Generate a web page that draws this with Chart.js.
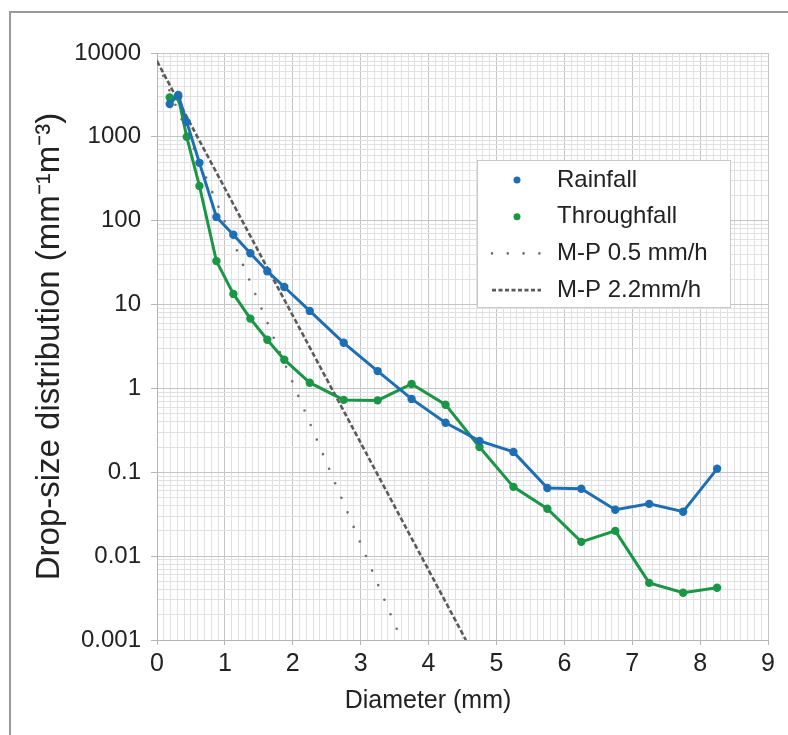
<!DOCTYPE html>
<html><head><meta charset="utf-8">
<script src="https://cdn.jsdelivr.net/npm/chart.js@4/dist/chart.umd.min.js"></script>
<style>
html,body{margin:0;padding:0;background:#fff;}
#wrap{position:relative;width:788px;height:735px;overflow:hidden;background:#fff;}
#frame{position:absolute;left:9px;top:11px;width:800px;height:800px;border-left:2px solid #9a9a9a;border-top:2px solid #9a9a9a;pointer-events:none;}
canvas{position:absolute;left:0;top:0;}
</style></head><body>
<div id="wrap"><div id="frame"></div><canvas id="c" width="788" height="735"></canvas></div>
<script>
// ---- data ----
const diameters = [0.1875, 0.3125, 0.4375, 0.625, 0.875, 1.125, 1.375, 1.625, 1.875, 2.25, 2.75, 3.25, 3.75, 4.25, 4.75, 5.25, 5.75, 6.25, 6.75, 7.25, 7.75, 8.25];
const rainfall    = [2470, 3160, 1510, 490, 111, 68, 41, 25, 16.2, 8.4, 3.5, 1.61, 0.75, 0.39, 0.237, 0.175, 0.065, 0.0635, 0.0357, 0.042, 0.0339, 0.110];
const throughfall = [2950, 3000, 1000, 260, 33, 13.4, 6.8, 3.8, 2.2, 1.17, 0.73, 0.72, 1.13, 0.64, 0.20, 0.067, 0.0367, 0.0148, 0.020, 0.0048, 0.00366, 0.0042];
const mpDiam05 = [0, 3.6];
const mpValues05 = [8000, 0.001];
const mpDiam22 = [0, 4.55];
const mpValues22 = [8000, 0.001];
const seriesLabels = ['Rainfall', 'Throughfall', 'M-P 0.5 mm/h', 'M-P 2.2mm/h'];
const xTickLabels = ['0', '1', '2', '3', '4', '5', '6', '7', '8', '9'];
const yDecades = [0.001, 0.01, 0.1, 1, 10, 100, 1000, 10000];
const yTickLabels = ['0.001', '0.01', '0.1', '1', '10', '100', '1000', '10000'];
const xTitle = 'Diameter (mm)';
const yTitle = 'Drop-size distribution (mm\u207B\u00B9m\u207B\u00B3)';

const FONT = "'Liberation Sans', Arial, sans-serif";
const BLUE = '#1e6eb4';
const GREEN = '#1a9646';

const pts = (xs, ys) => xs.map((x, i) => ({x: x, y: ys[i]}));
const near = (a, b) => Math.abs(a - b) <= Math.abs(b) * 1e-6;
const isDecade = v => yDecades.some(d => near(v, d));
const isWhole = v => Math.abs(v - Math.round(v)) < 1e-6;

// minor log ticks: 1..9 x each decade
const yTickValues = [];
for (let k = 0; k < yDecades.length - 1; k++) {
  for (let m = 1; m <= 9; m++) yTickValues.push(parseFloat((m * yDecades[k]).toPrecision(6)));
}
yTickValues.push(yDecades[yDecades.length - 1]);

const insetLegend = {
  id: 'insetLegend',
  afterDraw(chart, args, o) {
    const ctx = chart.ctx;
    ctx.save();
    ctx.fillStyle = '#ffffff';
    ctx.fillRect(o.x, o.y, o.w, o.h);
    ctx.strokeStyle = o.borderColor;
    ctx.lineWidth = 1;
    ctx.strokeRect(o.x + 0.5, o.y + 0.5, o.w, o.h);
    ctx.font = o.font;
    ctx.textBaseline = 'middle';
    ctx.textAlign = 'left';
    chart.data.datasets.forEach((ds, i) => {
      const cy = o.y + o.firstRow + i * o.rowGap;
      if (ds.pointRadius > 0) {
        ctx.beginPath();
        ctx.fillStyle = ds.borderColor;
        ctx.arc(o.markerX, cy, o.markerR, 0, Math.PI * 2);
        ctx.fill();
      } else {
        ctx.beginPath();
        ctx.strokeStyle = ds.borderColor;
        ctx.lineWidth = ds.borderWidth;
        ctx.lineCap = ds.borderCapStyle || 'butt';
        ctx.setLineDash(ds.legendDash || ds.borderDash || []);
        ctx.moveTo(o.sampleX0, cy);
        ctx.lineTo(o.sampleX1, cy);
        ctx.stroke();
        ctx.setLineDash([]);
      }
      ctx.fillStyle = o.color;
      ctx.fillText(ds.label, o.textX, cy);
    });
    ctx.restore();
  }
};

new Chart(document.getElementById('c'), {
  type: 'scatter',
  data: {
    datasets: [
      {label: seriesLabels[0], data: pts(diameters, rainfall), showLine: true, borderColor: BLUE, backgroundColor: BLUE, borderWidth: 3, pointRadius: 4.2, pointHoverRadius: 4.2, pointBorderWidth: 0},
      {label: seriesLabels[1], data: pts(diameters, throughfall), showLine: true, borderColor: GREEN, backgroundColor: GREEN, borderWidth: 3, pointRadius: 4.2, pointHoverRadius: 4.2, pointBorderWidth: 0},
      {label: seriesLabels[2], data: pts(mpDiam05, mpValues05), showLine: true, borderColor: '#6e6e6e', borderWidth: 2.6, borderDash: [0, 15.8], borderCapStyle: 'round', pointRadius: 0, pointHoverRadius: 0},
      {label: seriesLabels[3], data: pts(mpDiam22, mpValues22), showLine: true, borderColor: '#5a5a5a', borderWidth: 2.6, borderDash: [5, 2.5], legendDash: [4, 2.5], pointRadius: 0, pointHoverRadius: 0}
    ]
  },
  options: {
    responsive: false,
    animation: false,
    devicePixelRatio: 1,
    layout: {padding: {left: 68, right: 0, top: 53, bottom: 0}},
    plugins: {
      legend: {display: false},
      tooltip: {enabled: false},
      title: {display: true, text: xTitle, position: 'bottom', color: '#222', font: {family: FONT, size: 25, weight: 'normal'}, padding: {top: 2, bottom: 19}},
      insetLegend: {x: 477, y: 160, w: 253, h: 147, firstRow: 20, rowGap: 36.7, markerX: 517, markerR: 3.5, sampleX0: 492, sampleX1: 541, textX: 557, font: '24px ' + FONT, color: '#222', borderColor: '#c9c9c9'}
    },
    scales: {
      x: {
        type: 'linear', min: 0, max: 9,
        afterFit: s => { s.height = 44; },
        ticks: {
          stepSize: 0.1, autoSkip: false, maxRotation: 0, padding: 4,
          color: '#222', font: {family: FONT, size: 25},
          callback: v => isWhole(v) ? xTickLabels[Math.round(v)] : ''
        },
        grid: {
          color: c => (c.tick && isWhole(c.tick.value)) ? '#c4c4c4' : '#e1e1e1',
          tickColor: c => (c.tick && isWhole(c.tick.value)) ? '#b5b5b5' : 'rgba(0,0,0,0)',
          tickLength: 5, lineWidth: 1
        },
        border: {color: '#b5b5b5', width: 1}
      },
      y: {
        type: 'logarithmic', min: 0.001, max: 10000,
        afterFit: s => { s.width = 89; },
        afterBuildTicks: s => { s.ticks = yTickValues.map(v => ({value: v, major: isDecade(v)})); },
        ticks: {
          autoSkip: false, padding: 10, color: '#222', font: {family: FONT, size: 24},
          callback: v => { const i = yDecades.findIndex(d => near(v, d)); return i >= 0 ? yTickLabels[i] : ''; }
        },
        grid: {
          color: c => (c.tick && isDecade(c.tick.value)) ? '#c4c4c4' : '#e1e1e1',
          tickColor: c => (c.tick && isDecade(c.tick.value)) ? '#b5b5b5' : 'rgba(0,0,0,0)',
          tickLength: 6, lineWidth: 1
        },
        border: {color: '#b5b5b5', width: 1},
        title: {display: true, text: yTitle, color: '#222', font: {family: FONT, size: 33, weight: 'normal'}, padding: {top: -37.8, bottom: 0}}
      },
      yRight: {
        type: 'linear', position: 'right', display: true, min: 0, max: 1,
        afterFit: s => { s.width = 20; },
        ticks: {display: false},
        grid: {display: false, drawTicks: false},
        border: {display: false},
        title: {display: false}
      }
    }
  },
  plugins: [insetLegend]
});
</script>
</body></html>
